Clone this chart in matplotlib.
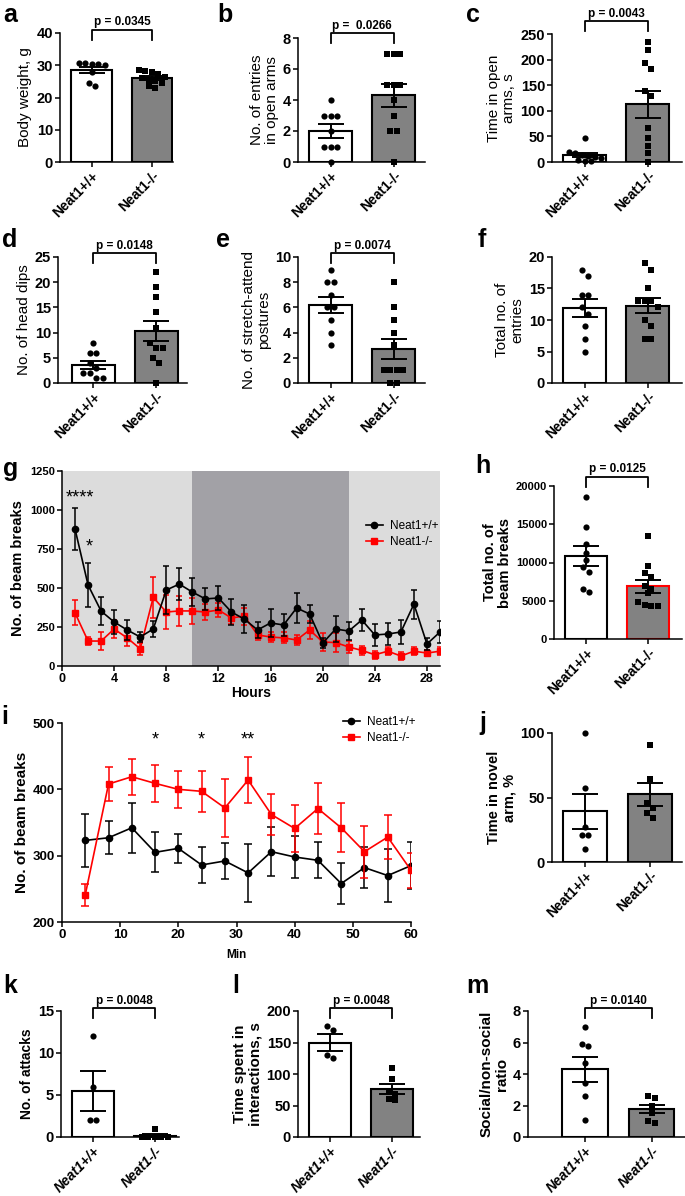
import numpy as np
import matplotlib
matplotlib.use("Agg")
import matplotlib.pyplot as plt
from matplotlib.lines import Line2D
from matplotlib.transforms import blended_transform_factory

plt.rcParams['font.family'] = ['Liberation Sans', 'DejaVu Sans']

W, H, DPI = 685, 1196, 100
groups = ["Neat1+/+", "Neat1-/-"]

# a - body weight
a_wt = [30.5, 30.2, 30.6, 30.3, 30.6, 28.0, 23.6, 24.6]
a_ko = [28.5, 28.2, 28.0, 27.2, 26.5, 26.0, 25.5, 25.0, 24.5, 23.5, 23.0]
a_mean, a_sem = [28.5, 26.0], [0.9, 0.6]
# b - entries in open arms
b_wt = [4, 3, 3, 3, 2, 1, 1, 1, 0]
b_ko = [7, 7, 7, 5, 5, 5, 4, 3, 2, 2, 0]
b_mean, b_sem = [2.0, 4.3], [0.43, 0.73]
# c - time in open arms
c_wt = [47, 20, 18, 14, 12, 10, 8, 4, 2, 1]
c_ko = [234, 218, 193, 182, 139, 128, 67, 46, 31, 18, 0]
c_mean, c_sem = [14, 113], [4.5, 26.5]
# d - head dips
d_wt = [8, 6, 6, 4, 3, 2, 2, 1, 1]
d_ko = [22, 19, 17, 14, 11, 8, 7, 7, 5, 4, 0]
d_mean, d_sem = [3.6, 10.3], [0.75, 2.05]
# e - stretch-attend postures
e_wt = [9, 8, 8, 7, 6, 6, 5, 4, 3]
e_ko = [8, 6, 5, 4, 3, 1, 1, 1, 1, 0, 0]
e_mean, e_sem = [6.2, 2.7], [0.66, 0.82]
# f - total entries
f_wt = [18, 17, 14, 14, 12, 11, 9, 7, 5]
f_ko = [19, 18, 15, 13, 13, 13, 12, 10, 9, 7, 7]
f_mean, f_sem = [11.9, 12.3], [1.5, 1.25]
# g - beam breaks over 29 h
hours = list(range(1, 30))
g_wt = [878, 519, 352, 282, 231, 186, 237, 487, 525, 474, 430, 436, 346, 300, 231,
        276, 263, 372, 333, 147, 237, 224, 295, 199, 205, 218, 397, 141, 218]
g_wt_sem = [135, 140, 90, 75, 65, 35, 50, 155, 100, 90, 70, 80, 85, 90, 50,
            88, 70, 97, 55, 30, 85, 60, 72, 72, 72, 78, 93, 40, 72]
g_ko = [340, 160, 160, 237, 180, 110, 440, 346, 353, 353, 346, 359, 308, 320, 199,
        186, 180, 167, 231, 154, 150, 122, 100, 72, 95, 64, 95, 83, 95]
g_ko_sem = [80, 25, 55, 55, 50, 40, 130, 110, 95, 85, 50, 45, 40, 55, 30,
            30, 35, 30, 60, 60, 60, 40, 30, 25, 25, 25, 25, 20, 25]
# h - total beam breaks
h_wt = [18500, 14600, 12400, 11200, 10300, 9400, 8700, 6500, 6100]
h_ko = [13400, 9600, 8600, 8100, 6900, 6500, 6000, 4800, 4400, 4300, 4300]
h_mean, h_sem = [10900, 6900], [1300, 830]
# i - beam breaks over 60 min
mins = list(range(4, 61, 4))
i_wt = [323, 327, 342, 305, 311, 286, 292, 274, 306, 298, 293, 258, 282, 270, 285]
i_wt_sem = [40, 25, 38, 30, 22, 27, 27, 44, 37, 32, 27, 31, 31, 40, 35]
i_ko = [241, 408, 419, 409, 400, 397, 372, 414, 362, 341, 371, 342, 306, 328, 278]
i_ko_sem = [17, 25, 27, 28, 28, 31, 44, 35, 31, 35, 39, 37, 39, 33, 26]
# j - time in novel arm
j_wt = [100, 57, 27, 21, 21, 10]
j_ko = [91, 64, 46, 42, 38, 34]
j_mean, j_sem = [39.3, 52.5], [13.7, 9.0]
# k - attacks
k_wt = [12, 6, 2, 2]
k_ko = [1, 0, 0, 0, 0, 0]
k_mean, k_sem = [5.5, 0.17], [2.4, 0.17]
# l - interaction time
l_wt = [176, 170, 130, 125]
l_ko = [110, 92, 72, 68, 60, 58]
l_mean, l_sem = [150, 76], [13, 8]
# m - social/non-social ratio
m_wt = [7.0, 5.9, 5.8, 4.7, 3.4, 2.6, 1.1]
m_ko = [2.6, 2.5, 2.0, 1.5, 1.0, 0.9]
m_mean, m_sem = [4.3, 1.77], [0.78, 0.27]

fig = plt.figure(figsize=(W / DPI, H / DPI), dpi=DPI)


def add_px(l, t, r, b):
    return fig.add_axes([l / W, 1 - b / H, (r - l) / W, (b - t) / H])


def fy(px):
    return 1 - px / H


def style(ax, lw=1.1):
    for s in ['top', 'right']:
        ax.spines[s].set_visible(False)
    for s in ['left', 'bottom']:
        ax.spines[s].set_linewidth(lw)
    ax.tick_params(width=lw, length=3.5, pad=1.5)


def swarm(vals, ppu_y, ppu_x, d=6.5):
    vals = np.asarray(vals, float)
    order = np.argsort(-vals, kind='stable')
    xs = np.zeros(len(vals))
    rows, cur = [], [order[0]]
    for i in order[1:]:
        if abs(vals[cur[0]] - vals[i]) * ppu_y < d:
            cur.append(i)
        else:
            rows.append(cur)
            cur = [i]
    rows.append(cur)
    for row in rows:
        n = len(row)
        for k, i in enumerate(row):
            xs[i] = (k - (n - 1) / 2) * d / ppu_x
    return xs


def bar_panel(rect, wt, ko, mean, sem, ylim, yticks, ylabel, xlim=(-0.52, 1.5),
              ko_edge='black', lab_w='normal', lab_size=11, tick_size=10.5,
              xt_style='normal', pval=None, br=(-4, 6, -11), labelpad=3):
    ax = add_px(*rect)
    style(ax)
    ax.set_xlim(*xlim)
    ax.set_ylim(*ylim)
    ppu_y = (rect[3] - rect[1]) / (ylim[1] - ylim[0])
    ppu_x = (rect[2] - rect[0]) / (xlim[1] - xlim[0])
    ax.bar([0, 1], mean, width=0.68, color=['white', '#828282'],
           edgecolor=['black', ko_edge], linewidth=1.5, zorder=1)
    for x0, vals, mk in [(0, wt, 'o'), (1, ko, 's')]:
        xs = x0 + swarm(vals, ppu_y, ppu_x)
        ax.scatter(xs, vals, marker=mk, s=20, color='black', linewidths=0,
                   zorder=3, clip_on=False)
    ax.errorbar([0, 1], mean, yerr=sem, fmt='none', ecolor='black', elinewidth=1.4,
                capsize=9.5, capthick=1.4, zorder=4)
    ax.set_yticks(yticks, labels=[str(t) for t in yticks],
                  fontweight='bold', fontsize=tick_size)
    ax.set_xticks([0, 1], labels=groups, rotation=45, ha='right', va='top',
                  rotation_mode='anchor', fontweight='bold', fontsize=10,
                  fontstyle=xt_style)
    ax.set_ylabel(ylabel, fontsize=lab_size, fontweight=lab_w, labelpad=labelpad,
                  linespacing=1.1)
    if pval:
        top = rect[1]
        tr = blended_transform_factory(ax.transData, fig.transFigure)
        yt, yl, ytx = fy(top + br[0]), fy(top + br[1]), fy(top + br[2])
        ax.plot([0, 0, 1, 1], [yl, yt, yt, yl], transform=tr, color='black', lw=1.3,
                clip_on=False)
        ax.text(0.5, ytx, pval, transform=tr, ha='center', va='center',
                fontsize=8.5, fontweight='bold')
    return ax


def letter(x, y, s):
    fig.text(x / W, fy(y), s, fontsize=18, fontweight='bold', va='baseline')


# row 1
bar_panel((60, 33, 173, 162), a_wt, a_ko, a_mean, a_sem, (0, 40), [0, 10, 20, 30, 40],
          "Body weight, g", xlim=(-0.53, 1.35), pval="p = 0.0345", br=(-3, 7, -11))
bar_panel((298, 38, 425, 162), b_wt, b_ko, b_mean, b_sem, (0, 8), [0, 2, 4, 6, 8],
          "No. of entries\nin open arms", pval="p =  0.0266", br=(-5, 5, -12))
bar_panel((552, 34, 682, 162), c_wt, c_ko, c_mean, c_sem, (0, 250), [0, 50, 100, 150, 200, 250],
          "Time in open\narms, s", xlim=(-0.52, 1.54), pval="p = 0.0043", br=(-13, -3, -20))
# row 2
bar_panel((58, 257, 187, 383), d_wt, d_ko, d_mean, d_sem, (0, 25), [0, 5, 10, 15, 20, 25],
          "No. of head dips", xlim=(-0.56, 1.49), pval="p = 0.0148")
bar_panel((298, 257, 425, 383), e_wt, e_ko, e_mean, e_sem, (0, 10), [0, 2, 4, 6, 8, 10],
          "No. of stretch-attend\npostures", pval="p = 0.0074")
bar_panel((552, 257, 682, 383), f_wt, f_ko, f_mean, f_sem, (0, 20), [0, 5, 10, 15, 20],
          "Total no. of\nentries", xlim=(-0.52, 1.54))

# g - time course over hours
ax = add_px(62, 471, 440, 666)
style(ax)
ax.set_xlim(0, 29)
ax.set_ylim(0, 1250)
ax.axvspan(0, 10, color='#dcdcdc', lw=0, zorder=0)
ax.axvspan(10, 22, color='#a2a1a6', lw=0, zorder=0)
ax.axvspan(22, 29, color='#dcdcdc', lw=0, zorder=0)
ax.errorbar(hours, g_ko, yerr=g_ko_sem, color='#ff0000', marker='s', ms=5, lw=1.2,
            elinewidth=1.1, capsize=2.5, capthick=1.1, zorder=3)
ax.errorbar(hours, g_wt, yerr=g_wt_sem, color='black', marker='o', ms=4.5, lw=1.2,
            elinewidth=1.1, capsize=2.5, capthick=1.1, zorder=4)
ax.text(1.35, 1075, '****', ha='center', va='center', fontsize=13)
ax.text(2.1, 760, '*', ha='center', va='center', fontsize=13)
ax.set_yticks([0, 250, 500, 750, 1000, 1250],
              labels=['0', '250', '500', '750', '1000', '1250'], fontweight='bold', fontsize=8)
ax.set_xticks(range(0, 29, 4), labels=[str(t) for t in range(0, 29, 4)],
              fontweight='bold', fontsize=9)
ax.set_ylabel("No. of beam breaks", fontsize=10.5, fontweight='bold', labelpad=4)
ax.set_xlabel("Hours", fontsize=10, fontweight='bold', labelpad=1)
hd = [Line2D([], [], color='black', marker='o', ms=4.5, lw=1.2),
      Line2D([], [], color='#ff0000', marker='s', ms=5, lw=1.2)]
ax.legend(hd, groups, loc='upper left', bbox_to_anchor=(366 / W, fy(520)),
          bbox_transform=fig.transFigure, frameon=False, fontsize=8.5,
          handlelength=1.4, handletextpad=0.6, labelspacing=0.35,
          borderpad=0, borderaxespad=0)

bar_panel((554, 486, 682, 639), h_wt, h_ko, h_mean, h_sem, (0, 20000),
          [0, 5000, 10000, 15000, 20000], "Total no. of\nbeam breaks", xlim=(-0.52, 1.55),
          ko_edge='#ff0000', lab_w='bold', lab_size=10.5, tick_size=8,
          pval="p = 0.0125", br=(-9, 1, -17))

# i - time course over minutes
ax = add_px(62, 723, 411, 922)
style(ax)
ax.set_xlim(0, 60)
ax.set_ylim(200, 500)
ax.errorbar(mins, i_wt, yerr=i_wt_sem, color='black', marker='o', ms=4.5, lw=1.2,
            elinewidth=1.1, capsize=3, capthick=1.1, zorder=3)
ax.errorbar(mins, i_ko, yerr=i_ko_sem, color='#ff0000', marker='s', ms=5, lw=1.2,
            elinewidth=1.1, capsize=3, capthick=1.1, zorder=4)
for xs, st in [(16, '*'), (24, '*'), (32, '**')]:
    ax.text(xs, 474, st, ha='center', va='center', fontsize=13)
ax.set_yticks([200, 300, 400, 500], labels=['200', '300', '400', '500'],
              fontweight='bold', fontsize=9.5)
ax.set_xticks(range(0, 61, 10), labels=[str(t) for t in range(0, 61, 10)],
              fontweight='bold', fontsize=9.5)
ax.set_ylabel("No. of beam breaks", fontsize=11, fontweight='bold', labelpad=3)
ax.set_xlabel("Min", fontsize=8.5, fontweight='bold', labelpad=6)
ax.legend(hd, groups, loc='upper left', bbox_to_anchor=(343 / W, fy(716)),
          bbox_transform=fig.transFigure, frameon=False, fontsize=8.5,
          handlelength=1.4, handletextpad=0.6, labelspacing=0.35,
          borderpad=0, borderaxespad=0)

bar_panel((552, 733, 682, 862), j_wt, j_ko, j_mean, j_sem, (0, 100), [0, 50, 100],
          "Time in novel\narm, %", xlim=(-0.51, 1.49), lab_w='bold', lab_size=10.5)

# bottom row
bar_panel((61, 1011, 179, 1137), k_wt, k_ko, k_mean, k_sem, (0, 15), [0, 5, 10, 15],
          "No. of attacks", xlim=(-0.52, 1.39), lab_w='bold', lab_size=10,
          xt_style='italic', pval="p = 0.0048", br=(-3, 7, -10))
bar_panel((298, 1011, 420, 1137), l_wt, l_ko, l_mean, l_sem, (0, 200), [0, 50, 100, 150, 200],
          "Time spent in\ninteractions, s", xlim=(-0.52, 1.45), lab_w='bold', lab_size=11,
          xt_style='italic', pval="p = 0.0048", br=(-3, 7, -10))
bar_panel((528, 1011, 685, 1137), m_wt, m_ko, m_mean, m_sem, (0, 8), [0, 2, 4, 6, 8],
          "Social/non-social\nratio", xlim=(-0.85, 1.5), lab_w='bold', lab_size=11,
          xt_style='italic', pval="p = 0.0140", br=(-3, 7, -10))

for x, y, s in [(3, 22, 'a'), (217, 22, 'b'), (466, 22, 'c'),
                (2, 247, 'd'), (216, 247, 'e'), (478, 247, 'f'),
                (3, 476, 'g'), (475, 473, 'h'), (1, 724, 'i'), (479, 730, 'j'),
                (3, 993, 'k'), (232, 993, 'l'), (466, 993, 'm')]:
    letter(x, y, s)

fig.savefig("out.png", dpi=DPI)
